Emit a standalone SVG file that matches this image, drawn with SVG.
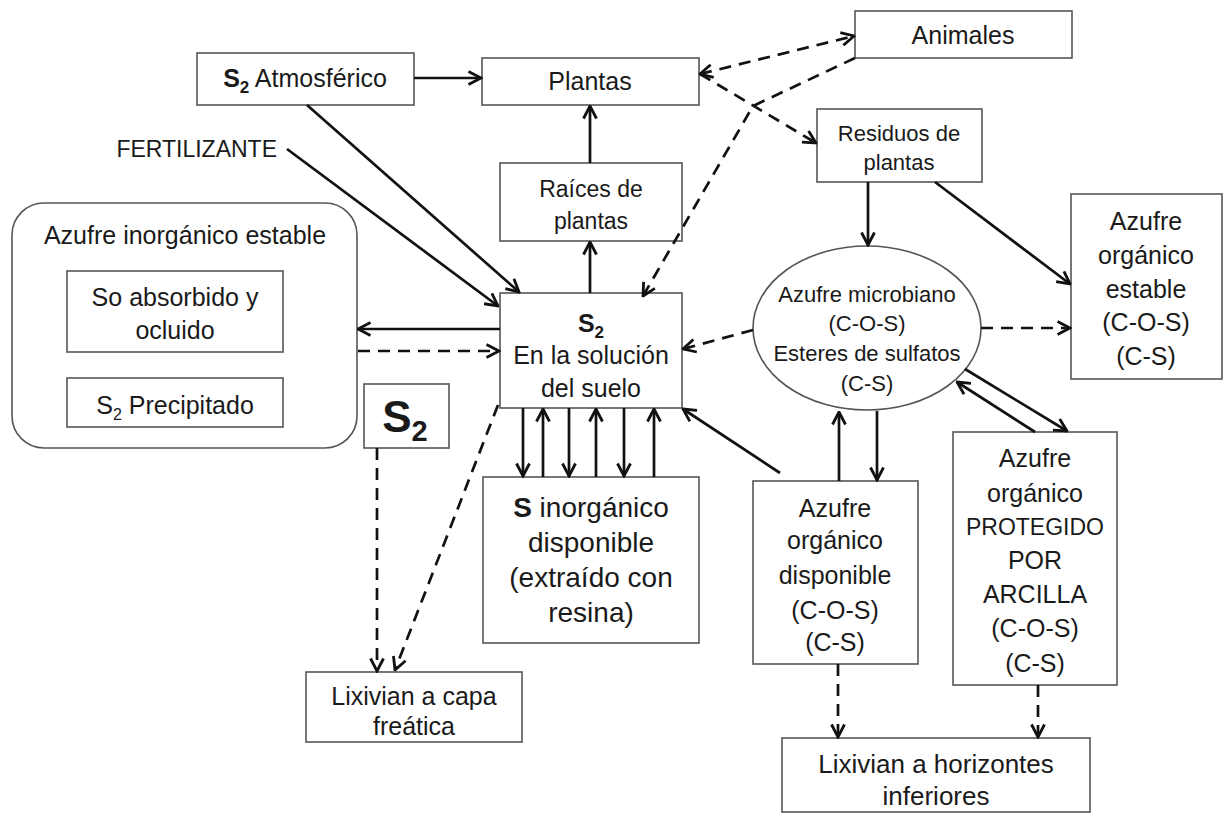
<svg xmlns="http://www.w3.org/2000/svg" width="1229" height="819" viewBox="0 0 1229 819">
<style>
svg{font-size:25px}
text{font-family:"Liberation Sans",Arial,sans-serif;fill:#1a1a1a;text-anchor:middle}
.box{fill:#fff;stroke:#555;stroke-width:1.6}
.ln{fill:none;stroke:#111;stroke-width:2.7}
.ds{fill:none;stroke:#111;stroke-width:2.7;stroke-dasharray:12 8}
.b{font-weight:bold}
</style>
<defs>
<marker id="ah" markerUnits="userSpaceOnUse" viewBox="0 0 16 16" refX="14.5" refY="8" markerWidth="16" markerHeight="16" orient="auto-start-reverse">
<path d="M2,1.5 L14.5,8 L2,14.5" fill="none" stroke="#111" stroke-width="2.8" stroke-linejoin="miter"/>
</marker>
</defs>
<rect width="1229" height="819" fill="#fff"/>

<g id="atm"><rect class="box" x="197" y="53" width="217" height="52"/>
<text x="305" y="87"><tspan class="b">S</tspan><tspan class="b" font-size="17" dy="6">2</tspan><tspan dy="-6"> Atmosférico</tspan></text></g>
<g id="plantas"><rect class="box" x="482" y="58" width="217" height="47"/><text x="590" y="90">Plantas</text></g>
<g id="animales"><rect class="box" x="855" y="11" width="217" height="47"/><text x="963" y="44">Animales</text></g>
<g id="residuos"><rect class="box" x="817" y="109" width="165" height="73"/>
<text x="899" y="141" font-size="22">Residuos de</text><text x="899" y="170" font-size="22">plantas</text></g>
<g id="raices"><rect class="box" x="500" y="163" width="182" height="78"/>
<text x="591" y="197" font-size="23">Raíces de</text><text x="591" y="229" font-size="23">plantas</text></g>
<g id="fert"><text x="277" y="157" font-size="23" style="text-anchor:end">FERTILIZANTE</text></g>
<g id="inorg-estable"><rect class="box" x="12" y="203" width="345" height="245" rx="32"/>
<text x="185" y="244">Azufre inorgánico estable</text>
<rect class="box" x="67" y="271" width="216" height="81"/>
<text x="175" y="306">So absorbido y</text><text x="175" y="339">ocluido</text>
<rect class="box" x="67" y="378" width="216" height="49"/>
<text x="175" y="414">S<tspan font-size="16" dy="6">2</tspan><tspan dy="-6"> Precipitado</tspan></text></g>
<g id="solucion"><rect class="box" x="500" y="293" width="182" height="115"/>
<text x="591" y="332" class="b">S<tspan font-size="17" dy="6">2</tspan></text>
<text x="591" y="364">En la solución</text><text x="591" y="397">del suelo</text></g>
<g id="s2"><rect class="box" x="364" y="384" width="85" height="64"/>
<text x="405" y="432" class="b" font-size="44">S<tspan font-size="29" dy="9">2</tspan></text></g>
<g id="sinorg"><rect class="box" x="483" y="477" width="216" height="166"/>
<text x="591" y="517" font-size="28"><tspan class="b">S</tspan> inorgánico</text>
<text x="591" y="552" font-size="28">disponible</text>
<text x="591" y="587" font-size="28">(extraído con</text>
<text x="591" y="622" font-size="28">resina)</text></g>
<g id="microbiano"><ellipse class="box" cx="867" cy="328" rx="114" ry="82"/>
<text x="867" y="302" font-size="22">Azufre microbiano</text>
<text x="867" y="331" font-size="22">(C-O-S)</text>
<text x="867" y="361" font-size="22">Esteres de sulfatos</text>
<text x="867" y="391" font-size="22">(C-S)</text></g>
<g id="aoe"><rect class="box" x="1071" y="194" width="151" height="185"/>
<text x="1146" y="230">Azufre</text><text x="1146" y="264">orgánico</text><text x="1146" y="298">estable</text>
<text x="1146" y="331">(C-O-S)</text><text x="1146" y="365">(C-S)</text></g>
<g id="disponible"><rect class="box" x="753" y="481" width="165" height="183"/>
<text x="835" y="517">Azufre</text><text x="835" y="549">orgánico</text><text x="835" y="584">disponible</text>
<text x="835" y="619">(C-O-S)</text><text x="835" y="651">(C-S)</text></g>
<g id="protegido"><rect class="box" x="953" y="432" width="164" height="253"/>
<text x="1035" y="467">Azufre</text><text x="1035" y="502">orgánico</text><text x="1035" y="535" font-size="23">PROTEGIDO</text>
<text x="1035" y="569">POR</text><text x="1035" y="603">ARCILLA</text><text x="1035" y="637">(C-O-S)</text><text x="1035" y="672">(C-S)</text></g>
<g id="lix-horiz"><rect class="box" x="782" y="738" width="308" height="74"/>
<text x="936" y="773" font-size="26">Lixivian a horizontes</text><text x="936" y="805" font-size="26">inferiores</text></g>
<g id="lix-capa"><rect class="box" x="306" y="672" width="216" height="70"/>
<text x="414" y="705">Lixivian a capa</text><text x="414" y="735">freática</text></g>

<g id="connectors">
<path class="ln" d="M414,78 L481,78" marker-end="url(#ah)"/>
<path class="ln" d="M590,163 L590,106" marker-end="url(#ah)"/>
<path class="ln" d="M590,293 L590,242" marker-end="url(#ah)"/>
<path class="ln" d="M307,105 L519,292" marker-end="url(#ah)"/>
<path class="ln" d="M287,149 L498,306" marker-end="url(#ah)"/>
<path class="ln" d="M500,329 L358,329" marker-end="url(#ah)"/>
<path class="ds" d="M358,351 L499,351" marker-end="url(#ah)"/>
<path class="ds" d="M700,74 L854,36" marker-start="url(#ah)" marker-end="url(#ah)"/>
<path class="ds" d="M700,74 L816,143" marker-end="url(#ah)"/>
<path class="ds" d="M855,58 L753,106 L643,296" marker-end="url(#ah)"/>
<path class="ds" d="M753,330 L683,349" marker-end="url(#ah)"/>
<path class="ln" d="M868,182 L868,245" marker-end="url(#ah)"/>
<path class="ln" d="M935,182 L1070,284" marker-end="url(#ah)"/>
<path class="ds" d="M981,328 L1070,328" marker-end="url(#ah)"/>
<path class="ln" d="M965,369 L1067,431" marker-end="url(#ah)"/>
<path class="ln" d="M1035,432 L957,382" marker-end="url(#ah)"/>
<path class="ln" d="M839,481 L839,412" marker-end="url(#ah)"/>
<path class="ln" d="M877,411 L877,480" marker-end="url(#ah)"/>
<path class="ln" d="M780,473 L683,409" marker-end="url(#ah)"/>
<path class="ln" d="M523,408 L523,476" marker-end="url(#ah)"/>
<path class="ln" d="M543,477 L543,409" marker-end="url(#ah)"/>
<path class="ln" d="M569,408 L569,476" marker-end="url(#ah)"/>
<path class="ln" d="M596,477 L596,409" marker-end="url(#ah)"/>
<path class="ln" d="M624,408 L624,476" marker-end="url(#ah)"/>
<path class="ln" d="M654,477 L654,409" marker-end="url(#ah)"/>
<path class="ds" d="M377,448 L377,671" marker-end="url(#ah)"/>
<path class="ds" d="M498,405 L395,670" marker-end="url(#ah)"/>
<path class="ds" d="M838,664 L838,737" marker-end="url(#ah)"/>
<path class="ds" d="M1038,685 L1038,737" marker-end="url(#ah)"/>
</g>
</svg>
